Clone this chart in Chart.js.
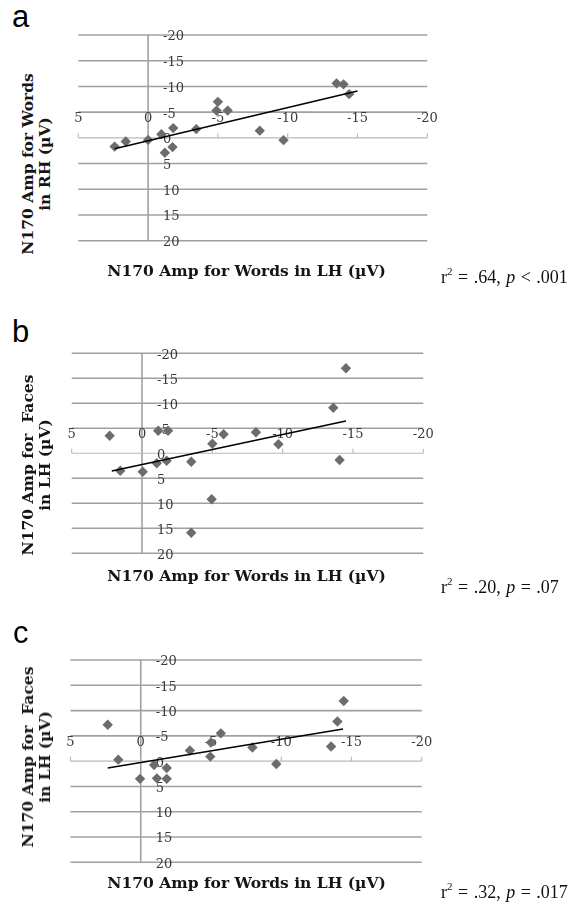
<!DOCTYPE html>
<html><head><meta charset="utf-8">
<script src="https://cdn.jsdelivr.net/npm/chart.js@4.4.0/dist/chart.umd.min.js"></script>
<style>
html,body{margin:0;padding:0;background:#fff;}
body{width:582px;height:904px;position:relative;overflow:hidden;}
canvas{position:absolute;}
.lbl{position:absolute;font-family:"Liberation Sans",Arial,sans-serif;font-size:31px;line-height:31px;color:#000;white-space:pre;}
.xt{position:absolute;font-family:"DejaVu Serif",serif;font-weight:bold;white-space:pre;transform:translate(-50%,-50%);color:#151515;line-height:1.1;}
.yt{position:absolute;font-family:"DejaVu Serif",serif;font-weight:bold;white-space:pre;text-align:center;line-height:17px;transform:translate(-50%,-50%) rotate(-90deg);color:#151515;}
.r2{position:absolute;font-family:"Liberation Serif","Times New Roman",serif;font-size:18px;word-spacing:1px;white-space:pre;transform:translateY(-50%);color:#111;line-height:1.2;}
.r2 sup{font-size:11px;vertical-align:8px;line-height:0;}
</style></head><body>
<script>
// ---- tick labels ----
const xTickValues = [5, 0, -5, -10, -15, -20];
const xTickLabels = ['5', '0', '-5', '-10', '-15', '-20'];
const yTickValues = [-20, -15, -10, -5, 0, 5, 10, 15, 20];
const yTickLabels = ['-20', '-15', '-10', '-5', '0', '5', '10', '15', '20'];

// ---- panel a: words LH (x) vs words RH (y) ----
const aX = [2.4, 1.6, 0.0, -0.95, -1.8, -1.75, -1.2, -3.45, -5.0, -4.9, -5.7, -8.0, -9.7, -13.5, -14.0, -14.4];
const aY = [1.7, 0.7, 0.4, -0.7, -1.9, 1.8, 2.9, -1.7, -7.0, -5.3, -5.3, -1.4, 0.45, -10.6, -10.4, -8.5];
const aTrendX = [2.4, -15.0];
const aTrendY = [2.1, -9.1];

// ---- panel b: words LH (x) vs faces LH (y) ----
const bX = [2.3, 1.55, -0.05, -1.05, -1.15, -1.85, -1.75, -3.5, -3.5, -4.95, -5.0, -5.8, -8.1, -9.7, -13.6, -14.05, -14.5];
const bY = [-3.5, 3.5, 3.7, 2.0, -4.5, -4.5, 1.5, 1.7, 15.9, 9.2, -1.9, -3.8, -4.2, -1.8, -9.1, 1.35, -17.0];
const bTrendX = [2.15, -14.5];
const bTrendY = [3.55, -6.45];

// ---- panel c: words LH (x) vs faces LH (y) ----
const cX = [2.35, 1.6, 0.05, -0.95, -1.85, -1.15, -1.85, -3.5, -5.0, -5.7, -4.95, -7.95, -9.65, -13.55, -14.0, -14.45];
const cY = [-7.2, -0.3, 3.5, 0.75, 1.35, 3.4, 3.5, -2.1, -3.7, -5.5, -0.9, -2.7, 0.55, -2.9, -7.85, -11.9];
const cTrendX = [2.35, -14.4];
const cTrendY = [1.35, -6.35];

// ---- texts ----
const panelLetters = ['a', 'b', 'c'];
const xTitles = ['N170 Amp for Words in LH (\u00b5V)', 'N170 Amp for Words in LH (\u00b5V)', 'N170 Amp for Words in LH (\u00b5V)'];
const yTitles = [['N170 Amp for Words', 'in RH (\u00b5V)'], ['N170 Amp for  Faces', 'in LH (\u00b5V)'], ['N170 Amp for  Faces', 'in LH (\u00b5V)']];
const statR2 = ['.64', '.20', '.32'];
const statP = ['< .001', '= .07', '= .017'];

// ---- layout (positions only) ----
const layout = [
  {area:{L:78.3, R:427.3, T:35, B:240.7}, letter:{x:12, base:26.7}, xTitleY:271, yTitleY:164, r2Y:278},
  {area:{L:71.7, R:423.3, T:353.3, B:553.3}, letter:{x:12, base:342}, xTitleY:576, yTitleY:465, r2Y:588},
  {area:{L:70.5, R:421.7, T:660, B:862.3}, letter:{x:13, base:643}, xTitleY:883, yTitleY:757, r2Y:893}
];
const series = [[aX, aY, aTrendX, aTrendY], [bX, bY, bTrendX, bTrendY], [cX, cY, cTrendX, cTrendY]];

const gridPlugin = {
  id: 'excelGrid',
  beforeDatasetsDraw(chart) {
    const ctx = chart.ctx, x = chart.scales.x, y = chart.scales.y;
    const line = (x1, y1, x2, y2) => { ctx.beginPath(); ctx.moveTo(x1, y1); ctx.lineTo(x2, y2); ctx.stroke(); };
    const x0 = x.getPixelForValue(0), xl = x.getPixelForValue(5), xr = x.getPixelForValue(-20);
    const yt = y.getPixelForValue(-20), yb = y.getPixelForValue(20), y0 = y.getPixelForValue(0);
    ctx.save();
    ctx.strokeStyle = '#a0a0a0'; ctx.lineWidth = 1.6;
    yTickValues.forEach(v => { if (v !== 0) { const py = y.getPixelForValue(v); line(xl, py, xr, py); } });
    line(x0, yt, x0, yb);
    ctx.strokeStyle = '#b8b8b8'; ctx.lineWidth = 1.1;
    line(xl, y0, xr, y0);
    xTickValues.forEach(v => { const px = x.getPixelForValue(v); line(px, y0, px, y0 - 4.5); });
    ctx.fillStyle = '#3a3a3a';
    ctx.font = '13px "DejaVu Serif", serif';
    ctx.textBaseline = 'middle';
    ctx.textAlign = 'center';
    xTickValues.forEach((v, i) => ctx.fillText(xTickLabels[i], x.getPixelForValue(v), y0 - 19));
    ctx.textAlign = 'left';
    yTickValues.forEach((v, i) => ctx.fillText(yTickLabels[i], x0 + 15, y.getPixelForValue(v) + 2));
    ctx.restore();
  }
};

function fitSize(text, family, weight, targetW) {
  const c = document.createElement('canvas').getContext('2d');
  c.font = weight + ' 100px ' + family;
  return 100 * targetW / c.measureText(text).width;
}
const titleSize = fitSize(xTitles[0], '"DejaVu Serif"', 'bold', 279);

layout.forEach((lay, k) => {
  const pad = 24;
  const A = lay.area;
  const cl = Math.floor(A.L - pad), ct = Math.floor(A.T - pad);
  const cr = Math.ceil(A.R + pad), cb = Math.ceil(A.B + pad);
  const cv = document.createElement('canvas');
  cv.width = cr - cl; cv.height = cb - ct;
  cv.style.left = cl + 'px'; cv.style.top = ct + 'px';
  cv.style.width = (cr - cl) + 'px'; cv.style.height = (cb - ct) + 'px';
  document.body.appendChild(cv);
  const [sx, sy, tx, ty] = series[k];
  new Chart(cv.getContext('2d'), {
    data: {
      datasets: [
        {type: 'line', data: tx.map((v, i) => ({x: v, y: ty[i]})), borderColor: '#000', borderWidth: 1.5,
         pointRadius: 0, fill: false, clip: false, tension: 0},
        {type: 'scatter', data: sx.map((v, i) => ({x: v, y: sy[i]})), pointStyle: 'rectRot', pointRadius: 5.2,
         backgroundColor: '#6c6c6c', borderColor: '#6c6c6c', borderWidth: 0, clip: false}
      ]
    },
    options: {
      responsive: false, animation: false, devicePixelRatio: 1,
      layout: {padding: {left: A.L - cl, right: cr - A.R, top: A.T - ct, bottom: cb - A.B}},
      scales: {
        x: {type: 'linear', min: -20, max: 5, reverse: true, display: false},
        y: {type: 'linear', min: -20, max: 20, reverse: true, display: false}
      },
      plugins: {legend: {display: false}, tooltip: {enabled: false}}
    },
    plugins: [gridPlugin]
  });

  const L = document.createElement('div');
  L.className = 'lbl'; L.textContent = panelLetters[k];
  L.style.left = lay.letter.x + 'px'; L.style.top = (lay.letter.base - 26) + 'px';
  document.body.appendChild(L);

  const xt = document.createElement('div');
  xt.className = 'xt'; xt.textContent = xTitles[k];
  xt.style.fontSize = titleSize + 'px';
  xt.style.left = '246.5px'; xt.style.top = lay.xTitleY + 'px';
  document.body.appendChild(xt);

  const yt = document.createElement('div');
  yt.className = 'yt'; yt.textContent = yTitles[k].join('\n');
  yt.style.fontSize = titleSize + 'px';
  yt.style.left = '36px'; yt.style.top = lay.yTitleY + 'px';
  document.body.appendChild(yt);

  const r = document.createElement('div');
  r.className = 'r2';
  r.innerHTML = 'r<sup>2</sup> = ' + statR2[k] + ', <i>p</i> ' + statP[k].replace('<', '&lt;');
  r.style.left = '441px'; r.style.top = lay.r2Y + 'px';
  document.body.appendChild(r);
});
</script>
</body></html>
